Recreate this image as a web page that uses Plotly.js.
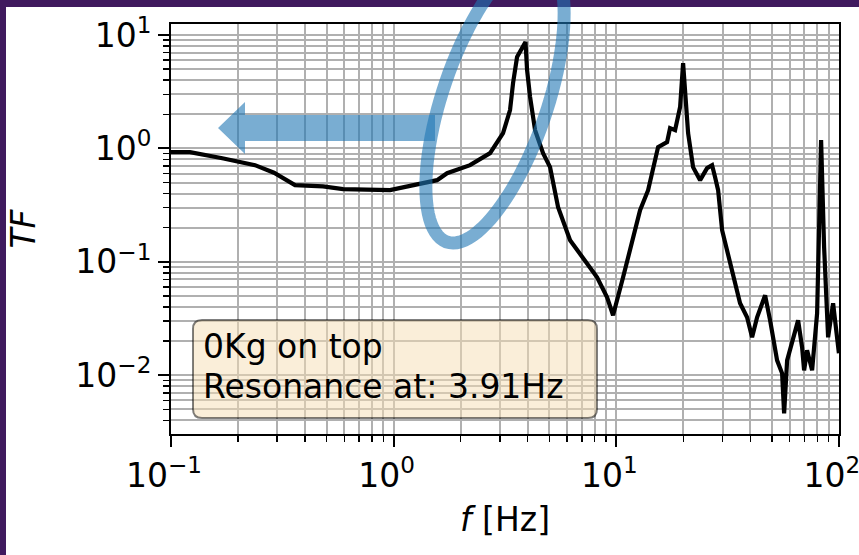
<!DOCTYPE html>
<html>
<head>
<meta charset="utf-8">
<script src="https://cdn.plot.ly/plotly-3.0.1.min.js"></script>
<style>html,body{margin:0;padding:0;background:#fff;}#plot{width:859px;height:555px;}</style>
</head>
<body>
<div id="plot"></div>
<script>
// ---- data ----
const freqHz = [0.1, 0.1217, 0.17, 0.2384, 0.29, 0.3606, 0.4818, 0.5926, 0.9634, 1.125, 1.314, 1.567, 1.738, 2.204, 2.711, 3.101, 3.333, 3.439, 3.584, 3.91, 3.975, 4.101, 4.318, 4.69, 5.042, 5.478, 6.201, 7.391, 8.198, 9.093, 9.674, 10.73, 11.53, 12.79, 13.90, 14.94, 15.41, 16.91, 17.44, 18.37, 19.35, 19.96, 21.02, 22.13, 23.80, 25.58, 26.94, 27.79, 28.67, 29.88, 31.46, 33.47, 35.98, 38.68, 40.74, 42.91, 46.62, 49.09, 52.77, 55.57, 56.74, 58.53, 62.27, 65.57, 68.34, 69.77, 71.96, 75.78, 79.81, 83.18, 85.81, 89.43, 94.17, 98.15, 100];
const tfValues = [0.927, 0.927, 0.82, 0.712, 0.61, 0.4745, 0.462, 0.437, 0.4285, 0.4555, 0.494, 0.525, 0.605, 0.712, 0.909, 1.365, 2.178, 3.77, 6.39, 8.68, 4.91, 2.837, 1.450, 0.909, 0.684, 0.3033, 0.1551, 0.0972, 0.0731, 0.0487, 0.0338, 0.0731, 0.132, 0.2853, 0.4285, 0.838, 1.027, 1.137, 1.511, 1.450, 2.315, 5.66, 1.365, 0.684, 0.525, 0.670, 0.712, 0.558, 0.4285, 0.190, 0.1266, 0.0793, 0.0431, 0.0324, 0.0216, 0.0324, 0.0507, 0.0305, 0.01353, 0.01039, 0.00461, 0.01353, 0.0203, 0.0305, 0.01763, 0.01105, 0.01659, 0.01105, 0.0352, 1.184, 0.1345, 0.0216, 0.0431, 0.0203, 0.01561];
const xTickVals = [0.1, 1, 10, 100];
const xTickText = ['10<sup>\u22121</sup>', '10<sup>0</sup>', '10<sup>1</sup>', '10<sup>2</sup>'];
const yTickVals = [0.01, 0.1, 1, 10];
const yTickText = ['10<sup>\u22122</sup>', '10<sup>\u22121</sup>', '10<sup>0</sup>', '10<sup>1</sup>'];
const boxLines = ['0Kg on top', 'Resonance at: 3.91Hz'];

// ---- geometry helpers (pixel -> paper) for decorations ----
const W = 859, H = 555, M = {l: 171, r: 20, t: 24, b: 121};
const pw = W - M.l - M.r, ph = H - M.t - M.b;
const fx = p => (p - M.l) / pw;
const fy = p => (H - M.b - p) / ph;
const pt = (x, y) => fx(x).toFixed(5) + ',' + fy(y).toFixed(5);

function roundRect(x0, y0, x1, y1, r) {
  return 'M' + pt(x0 + r, y0) + ' L' + pt(x1 - r, y0) + ' Q' + pt(x1, y0) + ' ' + pt(x1, y0 + r) +
    ' L' + pt(x1, y1 - r) + ' Q' + pt(x1, y1) + ' ' + pt(x1 - r, y1) +
    ' L' + pt(x0 + r, y1) + ' Q' + pt(x0, y1) + ' ' + pt(x0, y1 - r) +
    ' L' + pt(x0, y0 + r) + ' Q' + pt(x0, y0) + ' ' + pt(x0 + r, y0) + ' Z';
}
const arrowPts = [[435,115],[245,115],[245,102],[218,128],[245,154],[245,141],[435,141]];
const arrowPath = 'M' + arrowPts.map(p => pt(p[0], p[1])).join(' L') + ' Z';
let ell = [];
for (let i = 0; i <= 96; i++) {
  const s = 2 * Math.PI * i / 96;
  const ey = 100 + 143 * Math.sin(s);
  const ex = 495 - 0.293 * 143 * Math.sin(s) + 55 * Math.cos(s);
  ell.push(pt(ex, ey));
}
const ellPath = 'M' + ell.join(' L') + ' Z';

const purple = 'rgb(64,26,94)';
const blue = 'rgba(31,119,180,0.6)';
const gridC = '#b0b0b0';
const font = 'DejaVu Sans';

const trace = {
  x: freqHz, y: tfValues, type: 'scatter', mode: 'lines',
  line: {color: 'black', width: 4.2}, hoverinfo: 'skip'
};

const axisCommon = {
  type: 'log', showline: true, linecolor: 'black', linewidth: 2, mirror: true,
  ticks: 'outside', ticklen: 11, tickwidth: 2, tickcolor: 'black',
  showgrid: true, gridcolor: gridC, gridwidth: 2, zeroline: false,
  tickmode: 'array', ticklabeloverflow: 'allow',
  tickfont: {family: font, size: 33, color: 'black'},
  minor: {dtick: 'D1', ticks: 'outside', ticklen: 6, tickwidth: 1.5, tickcolor: 'black',
          showgrid: true, gridcolor: gridC, gridwidth: 2}
};

const layout = {
  width: W, height: H,
  margin: {l: M.l, r: M.r, t: M.t, b: M.b, pad: 0},
  paper_bgcolor: 'white', plot_bgcolor: 'white', showlegend: false,
  font: {family: font, color: 'black'},
  xaxis: Object.assign({}, axisCommon, {
    range: [-1, 2.0004], tickvals: xTickVals, ticktext: xTickText, ticklabelshift: -7,
    title: {text: '<i>f</i> [Hz]', font: {family: font, size: 33, color: 'black'}, standoff: 14}
  }),
  yaxis: Object.assign({}, axisCommon, {
    range: [-2.518, 1.097], tickvals: yTickVals, ticktext: yTickText,
    title: {text: '<i>TF</i>', font: {family: font, size: 33, color: 'black'}, standoff: 30}
  }),
  shapes: [
    {type: 'rect', xref: 'paper', yref: 'paper', x0: fx(0), x1: fx(W), y0: fy(7), y1: fy(0),
     fillcolor: purple, line: {width: 0}, layer: 'above'},
    {type: 'rect', xref: 'paper', yref: 'paper', x0: fx(0), x1: fx(6), y0: fy(H), y1: fy(0),
     fillcolor: purple, line: {width: 0}, layer: 'above'},
    {type: 'path', xref: 'paper', yref: 'paper', path: roundRect(193, 320, 597, 418, 9),
     fillcolor: 'rgba(245,222,179,0.5)', line: {color: 'rgba(0,0,0,0.5)', width: 2}, layer: 'above'},
    {type: 'path', xref: 'paper', yref: 'paper', path: arrowPath,
     fillcolor: blue, line: {width: 0}, layer: 'above'},
    {type: 'path', xref: 'paper', yref: 'paper', path: ellPath,
     fillcolor: 'rgba(0,0,0,0)', line: {color: blue, width: 13}, layer: 'above'}
  ],
  annotations: [
    {xref: 'paper', yref: 'paper', x: fx(201), y: fy(346), xanchor: 'left', yanchor: 'middle',
     text: boxLines[0], showarrow: false, font: {family: font, size: 33, color: 'black'}},
    {xref: 'paper', yref: 'paper', x: fx(201), y: fy(386), xanchor: 'left', yanchor: 'middle',
     text: boxLines[1], showarrow: false, font: {family: font, size: 33, color: 'black'}}
  ]
};

Plotly.newPlot('plot', [trace], layout, {staticPlot: true, displayModeBar: false});
</script>
</body>
</html>
